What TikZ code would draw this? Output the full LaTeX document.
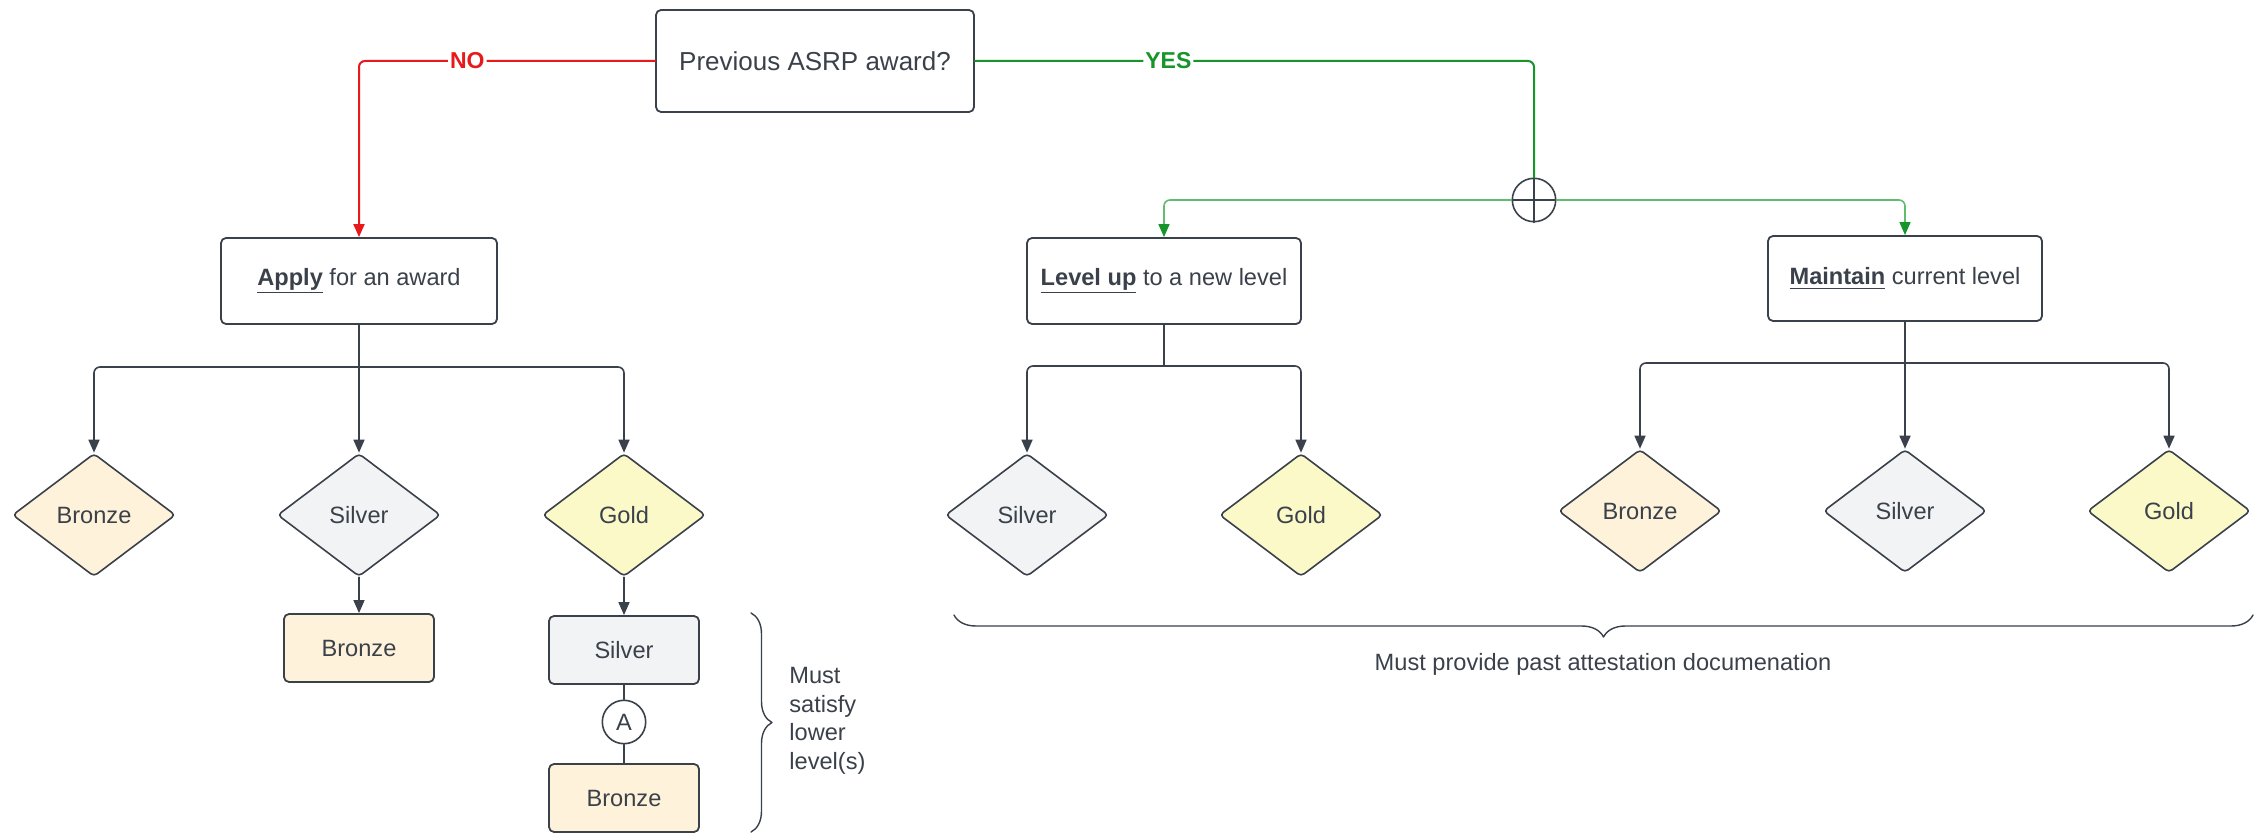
\documentclass[tikz,border=0pt]{standalone}
\usepackage{fontspec}
\setmainfont{Liberation Sans}
\usepackage{xcolor}
\usepackage{tikz}
\usetikzlibrary{arrows.meta,calc,positioning,shapes.geometric,decorations.pathreplacing}

\definecolor{lineclr}{HTML}{3A414A}
\definecolor{bronzefill}{HTML}{FFF2DA}
\definecolor{silverfill}{HTML}{F2F3F5}
\definecolor{goldfill}{HTML}{FBF9C8}
\definecolor{noclr}{HTML}{E8191B}
\definecolor{yesclr}{HTML}{17942A}
\definecolor{yeslight}{HTML}{62BC6E}

\tikzset{
  box/.style={draw=lineclr, line width=0.9pt, rounded corners=2.5pt, fill=white,
    text=lineclr, font=\fontsize{11.8}{14}\selectfont, align=center, inner sep=0pt},
  award/.style={diamond, draw=lineclr, line width=0.8pt, rounded corners=2pt,
    text=lineclr, font=\fontsize{11.8}{14}\selectfont, inner sep=0pt,
    minimum width=81.5pt, minimum height=61.5pt},
  lowerbox/.style={box, minimum width=75pt, minimum height=34pt},
  ring/.style={circle, draw=lineclr, line width=0.8pt, fill=white, inner sep=0pt,
    minimum size=21.7pt, text=lineclr, font=\fontsize{11.8}{14}\selectfont},
  conn/.style={draw=lineclr, line width=0.8pt, rounded corners=3pt},
  nolink/.style={draw=noclr, line width=1pt, rounded corners=3pt},
  yeslink/.style={draw=yesclr, line width=1pt, rounded corners=3pt},
  yesbranch/.style={draw=yeslight, line width=0.8pt, rounded corners=3pt,
    -{Triangle[length=6.5pt,width=5.5pt,color=yesclr]}},
  lbl/.style={fill=white, inner sep=1pt, font=\bfseries\fontsize{11.5}{14}\selectfont},
  note/.style={text=lineclr, font=\fontsize{11.8}{14.3}\selectfont, inner sep=0pt},
  brc/.style={draw=lineclr, line width=0.7pt, decorate}
}

\begin{document}
\begin{tikzpicture}[x=0.5pt,y=-0.5pt,line cap=round,line join=round,
  >={Triangle[length=6.5pt,width=5.5pt]}]
\useasboundingbox (0,0) rectangle (2265,833);

% question and the three routes
\node[box, minimum width=159pt, minimum height=51pt, font=\fontsize{13}{15}\selectfont] (prev) at (815,61) {Previous ASRP award?};
\node[box, minimum width=138pt, minimum height=43pt] (apply) at (359,281) {\underline{\textbf{Apply}} for an award};
\node[box, minimum width=137pt, minimum height=43pt] (levelup) at (1164,281) {\underline{\textbf{Level up}} to a new level};
\node[box, minimum width=137pt, minimum height=42.5pt] (maintain) at (1905,278.5) {\underline{\textbf{Maintain}} current level};
\node[ring] (join) at (1534,200) {};
\draw[draw=lineclr, line width=0.7pt] (join.north) -- (join.south) (join.west) -- (join.east);

% award levels
\node[award, fill=bronzefill] (abronze) at (94,515) {Bronze};
\node[award, fill=silverfill] (asilver) at (359,515) {Silver};
\node[award, fill=goldfill] (agold) at (624,515) {Gold};
\node[award, fill=silverfill] (lsilver) at (1027,515) {Silver};
\node[award, fill=goldfill] (lgold) at (1301,515) {Gold};
\node[award, fill=bronzefill] (mbronze) at (1640,511) {Bronze};
\node[award, fill=silverfill] (msilver) at (1905,511) {Silver};
\node[award, fill=goldfill] (mgold) at (2169,511) {Gold};

% lower levels to satisfy
\node[lowerbox, fill=bronzefill] (sbronze) at (359,648) {Bronze};
\node[lowerbox, fill=silverfill] (gsilver) at (624,650) {Silver};
\node[ring] (link) at (624,722) {A};
\node[lowerbox, fill=bronzefill] (gbronze) at (624,798) {Bronze};

\coordinate (afork) at (359,367);
\coordinate (lfork) at (1164,366);
\coordinate (mfork) at (1905,363);

% connectors
\draw[nolink,->] (prev.west) -| (apply.north) node[pos=0.317, lbl, text=noclr] {NO};
\draw[yeslink] (prev.east) -| (join.north) node[pos=0.173, lbl, text=yesclr] {YES};
\draw[yesbranch] (join.west) -| (levelup.north);
\draw[yesbranch] (join.east) -| (maintain.north);

\draw[conn,->] (apply.south) -- (asilver.north);
\draw[conn,->] (afork) -| (abronze.north);
\draw[conn,->] (afork) -| (agold.north);
\draw[conn] (levelup.south) -- (lfork);
\draw[conn,->] (lfork) -| (lsilver.north);
\draw[conn,->] (lfork) -| (lgold.north);
\draw[conn,->] (maintain.south) -- (msilver.north);
\draw[conn,->] (mfork) -| (mbronze.north);
\draw[conn,->] (mfork) -| (mgold.north);

\draw[conn,->] (asilver.south) -- (sbronze.north);
\draw[conn,->] (agold.south) -- (gsilver.north);
\draw[conn] (gsilver.south) -- (link.north);
\draw[conn] (link.south) -- (gbronze.north);

% braces and notes
\draw[brc, decoration={brace, amplitude=10.5pt}] (751,613) -- (751,832);
\node[note, anchor=west, align=left] (lowertxt) at (789,721) {Must\\satisfy\\lower\\level(s)};
\draw[brc, decoration={brace, amplitude=11pt}] (2253,615) -- (954,615);
\node[note] (pasttxt) at (1603,664) {Must provide past attestation documenation};
\end{tikzpicture}
\end{document}
